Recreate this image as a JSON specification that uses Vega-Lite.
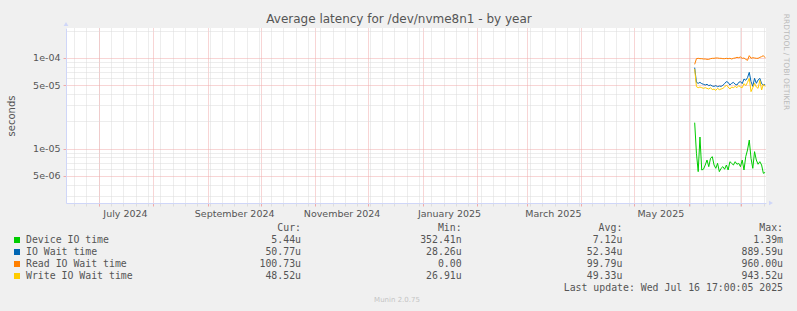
{
  "$schema": "https://vega.github.io/schema/vega-lite/v6.json",
  "width": 700,
  "height": 175,
  "autosize": {"type": "none"},
  "padding": {"left": 66, "top": 28, "right": 31, "bottom": 108},
  "background": "#F0F0F0",
  "view": {"fill": "#FFFFFF", "stroke": null},
  "config": {
    "font": "DejaVu Sans",
    "axis": {"labelFont": "DejaVu Sans", "labelColor": "#555555", "labelFontSize": 9.5, "domainColor": "#CFD6F8", "titleFont": "DejaVu Sans"}
  },
  "datasets": {
    "series": [
      {"date": "2025-06-04T12:00:00Z", "Device IO time": 1.93e-5, "IO Wait time": 7.82e-5, "Read IO Wait time": 8.51e-5, "Write IO Wait time": 7.56e-5},
      {"date": "2025-06-05T12:00:00Z", "Device IO time": 8.85e-6, "IO Wait time": 5.38e-5, "Read IO Wait time": 9.83e-5, "Write IO Wait time": 4.82e-5},
      {"date": "2025-06-06T12:00:00Z", "Device IO time": 5.55e-6, "IO Wait time": 5.25e-5, "Read IO Wait time": 9.92e-5, "Write IO Wait time": 4.70e-5},
      {"date": "2025-06-07T12:00:00Z", "Device IO time": 1.34e-5, "IO Wait time": 5.38e-5, "Read IO Wait time": 9.83e-5, "Write IO Wait time": 4.78e-5},
      {"date": "2025-06-08T12:00:00Z", "Device IO time": 5.79e-6, "IO Wait time": 5.21e-5, "Read IO Wait time": 9.83e-5, "Write IO Wait time": 4.70e-5},
      {"date": "2025-06-09T12:00:00Z", "Device IO time": 5.90e-6, "IO Wait time": 5.12e-5, "Read IO Wait time": 9.75e-5, "Write IO Wait time": 4.62e-5},
      {"date": "2025-06-10T12:00:00Z", "Device IO time": 6.57e-6, "IO Wait time": 5.03e-5, "Read IO Wait time": 9.75e-5, "Write IO Wait time": 4.70e-5},
      {"date": "2025-06-11T12:00:00Z", "Device IO time": 7.46e-6, "IO Wait time": 5.12e-5, "Read IO Wait time": 9.67e-5, "Write IO Wait time": 4.62e-5},
      {"date": "2025-06-12T12:00:00Z", "Device IO time": 6.30e-6, "IO Wait time": 4.95e-5, "Read IO Wait time": 9.67e-5, "Write IO Wait time": 4.54e-5},
      {"date": "2025-06-13T12:00:00Z", "Device IO time": 7.79e-6, "IO Wait time": 5.03e-5, "Read IO Wait time": 9.83e-5, "Write IO Wait time": 4.70e-5},
      {"date": "2025-06-14T12:00:00Z", "Device IO time": 8.13e-6, "IO Wait time": 4.90e-5, "Read IO Wait time": 9.92e-5, "Write IO Wait time": 4.47e-5},
      {"date": "2025-06-15T12:00:00Z", "Device IO time": 6.57e-6, "IO Wait time": 4.86e-5, "Read IO Wait time": 9.92e-5, "Write IO Wait time": 4.54e-5},
      {"date": "2025-06-16T12:00:00Z", "Device IO time": 6.04e-6, "IO Wait time": 4.95e-5, "Read IO Wait time": 1.00e-4, "Write IO Wait time": 4.39e-5},
      {"date": "2025-06-17T12:00:00Z", "Device IO time": 6.86e-6, "IO Wait time": 4.82e-5, "Read IO Wait time": 1.00e-4, "Write IO Wait time": 4.62e-5},
      {"date": "2025-06-18T12:00:00Z", "Device IO time": 5.55e-6, "IO Wait time": 4.90e-5, "Read IO Wait time": 9.92e-5, "Write IO Wait time": 4.47e-5},
      {"date": "2025-06-19T12:00:00Z", "Device IO time": 6.04e-6, "IO Wait time": 4.86e-5, "Read IO Wait time": 9.92e-5, "Write IO Wait time": 4.54e-5},
      {"date": "2025-06-20T12:00:00Z", "Device IO time": 6.30e-6, "IO Wait time": 4.99e-5, "Read IO Wait time": 9.83e-5, "Write IO Wait time": 4.62e-5},
      {"date": "2025-06-21T12:00:00Z", "Device IO time": 5.90e-6, "IO Wait time": 5.21e-5, "Read IO Wait time": 9.83e-5, "Write IO Wait time": 4.78e-5},
      {"date": "2025-06-22T12:00:00Z", "Device IO time": 6.57e-6, "IO Wait time": 5.48e-5, "Read IO Wait time": 9.92e-5, "Write IO Wait time": 5.03e-5},
      {"date": "2025-06-23T12:00:00Z", "Device IO time": 5.79e-6, "IO Wait time": 5.38e-5, "Read IO Wait time": 9.83e-5, "Write IO Wait time": 4.78e-5},
      {"date": "2025-06-24T12:00:00Z", "Device IO time": 7.15e-6, "IO Wait time": 5.03e-5, "Read IO Wait time": 9.92e-5, "Write IO Wait time": 4.54e-5},
      {"date": "2025-06-25T12:00:00Z", "Device IO time": 6.86e-6, "IO Wait time": 5.25e-5, "Read IO Wait time": 9.75e-5, "Write IO Wait time": 4.78e-5},
      {"date": "2025-06-26T12:00:00Z", "Device IO time": 6.57e-6, "IO Wait time": 5.38e-5, "Read IO Wait time": 9.92e-5, "Write IO Wait time": 4.70e-5},
      {"date": "2025-06-27T12:00:00Z", "Device IO time": 7.15e-6, "IO Wait time": 5.12e-5, "Read IO Wait time": 1.00e-4, "Write IO Wait time": 4.86e-5},
      {"date": "2025-06-28T12:00:00Z", "Device IO time": 6.70e-6, "IO Wait time": 5.03e-5, "Read IO Wait time": 1.017e-4, "Write IO Wait time": 4.70e-5},
      {"date": "2025-06-29T12:00:00Z", "Device IO time": 6.86e-6, "IO Wait time": 5.38e-5, "Read IO Wait time": 1.008e-4, "Write IO Wait time": 4.95e-5},
      {"date": "2025-06-30T12:00:00Z", "Device IO time": 6.30e-6, "IO Wait time": 5.48e-5, "Read IO Wait time": 1.026e-4, "Write IO Wait time": 4.78e-5},
      {"date": "2025-07-01T12:00:00Z", "Device IO time": 7.46e-6, "IO Wait time": 5.21e-5, "Read IO Wait time": 9.92e-5, "Write IO Wait time": 4.70e-5},
      {"date": "2025-07-02T12:00:00Z", "Device IO time": 5.79e-6, "IO Wait time": 5.86e-5, "Read IO Wait time": 1.00e-4, "Write IO Wait time": 5.21e-5},
      {"date": "2025-07-03T12:00:00Z", "Device IO time": 8.13e-6, "IO Wait time": 5.67e-5, "Read IO Wait time": 9.67e-5, "Write IO Wait time": 4.95e-5},
      {"date": "2025-07-04T12:00:00Z", "Device IO time": 9.63e-6, "IO Wait time": 6.06e-5, "Read IO Wait time": 9.42e-5, "Write IO Wait time": 5.38e-5},
      {"date": "2025-07-05T12:00:00Z", "Device IO time": 1.24e-5, "IO Wait time": 6.94e-5, "Read IO Wait time": 1.061e-4, "Write IO Wait time": 5.96e-5},
      {"date": "2025-07-06T12:00:00Z", "Device IO time": 7.79e-6, "IO Wait time": 5.48e-5, "Read IO Wait time": 9.92e-5, "Write IO Wait time": 4.25e-5},
      {"date": "2025-07-07T12:00:00Z", "Device IO time": 6.04e-6, "IO Wait time": 4.86e-5, "Read IO Wait time": 1.008e-4, "Write IO Wait time": 4.70e-5},
      {"date": "2025-07-08T12:00:00Z", "Device IO time": 9.23e-6, "IO Wait time": 5.96e-5, "Read IO Wait time": 1.00e-4, "Write IO Wait time": 5.25e-5},
      {"date": "2025-07-09T12:00:00Z", "Device IO time": 7.46e-6, "IO Wait time": 5.25e-5, "Read IO Wait time": 9.92e-5, "Write IO Wait time": 4.78e-5},
      {"date": "2025-07-10T12:00:00Z", "Device IO time": 6.70e-6, "IO Wait time": 5.71e-5, "Read IO Wait time": 9.92e-5, "Write IO Wait time": 4.62e-5},
      {"date": "2025-07-11T12:00:00Z", "Device IO time": 7.15e-6, "IO Wait time": 5.96e-5, "Read IO Wait time": 1.017e-4, "Write IO Wait time": 5.67e-5},
      {"date": "2025-07-12T12:00:00Z", "Device IO time": 6.57e-6, "IO Wait time": 5.21e-5, "Read IO Wait time": 1.035e-4, "Write IO Wait time": 4.43e-5},
      {"date": "2025-07-13T12:00:00Z", "Device IO time": 5.32e-6, "IO Wait time": 5.03e-5, "Read IO Wait time": 1.061e-4, "Write IO Wait time": 5.12e-5},
      {"date": "2025-07-14T12:00:00Z", "Device IO time": 5.44e-6, "IO Wait time": 5.08e-5, "Read IO Wait time": 1.007e-4, "Write IO Wait time": 4.85e-5}
    ],
    "names": [
      {"series": "Device IO time"},
      {"series": "IO Wait time"},
      {"series": "Read IO Wait time"},
      {"series": "Write IO Wait time"}
    ],
    "cells": [
      {"row": "hdr", "col": "Cur", "text": "Cur:\u00a0\u00a0"},
      {"row": "hdr", "col": "Min", "text": "Min:\u00a0\u00a0"},
      {"row": "hdr", "col": "Avg", "text": "Avg:\u00a0\u00a0"},
      {"row": "hdr", "col": "Max", "text": "Max:"},
      {"row": "Device IO time", "col": "Cur", "text": "5.44u"},
      {"row": "Device IO time", "col": "Min", "text": "352.41n"},
      {"row": "Device IO time", "col": "Avg", "text": "7.12u"},
      {"row": "Device IO time", "col": "Max", "text": "1.39m"},
      {"row": "IO Wait time", "col": "Cur", "text": "50.77u"},
      {"row": "IO Wait time", "col": "Min", "text": "28.26u"},
      {"row": "IO Wait time", "col": "Avg", "text": "52.34u"},
      {"row": "IO Wait time", "col": "Max", "text": "889.59u"},
      {"row": "Read IO Wait time", "col": "Cur", "text": "100.73u"},
      {"row": "Read IO Wait time", "col": "Min", "text": "0.00\u00a0"},
      {"row": "Read IO Wait time", "col": "Avg", "text": "99.79u"},
      {"row": "Read IO Wait time", "col": "Max", "text": "960.00u"},
      {"row": "Write IO Wait time", "col": "Cur", "text": "48.52u"},
      {"row": "Write IO Wait time", "col": "Min", "text": "26.91u"},
      {"row": "Write IO Wait time", "col": "Avg", "text": "49.33u"},
      {"row": "Write IO Wait time", "col": "Max", "text": "943.52u"},
      {"row": "upd", "col": "Max", "text": "Last update: Wed Jul 16 17:00:05 2025"}
    ],
    "footer": [{"row": "munin", "text": "Munin 2.0.75"}],
    "side": [{"text": "RRDTOOL / TOBI OETIKER"}],
    "heading": [{"text": "Average latency for /dev/nvme8n1 - by year"}]
  },
  "layer": [
    {
      "data": {"name": "series"},
      "transform": [{"fold": ["Device IO time", "IO Wait time", "Read IO Wait time", "Write IO Wait time"], "as": ["series", "value"]}],
      "layer": [
        {
          "mark": {"type": "point", "opacity": 0},
          "encoding": {
            "x": {"field": "date", "type": "temporal", "scale": {"type": "utc", "domain": [1718193600000, 1752537600000]},
              "axis": {"orient": "bottom", "title": null, "labels": false, "domain": false, "ticks": true, "tickSize": 3, "tickColor": "#DDDDDD", "grid": true, "gridColor": "#DADADA", "gridDash": [1, 1], "gridWidth": 1,
                "values": [1718582400000, 1719187200000, 1719792000000, 1720396800000, 1721001600000, 1721606400000, 1722211200000, 1722816000000, 1723420800000, 1724025600000, 1724630400000, 1725235200000, 1725840000000, 1726444800000, 1727049600000, 1727654400000, 1728259200000, 1728864000000, 1729468800000, 1730073600000, 1730678400000, 1731283200000, 1731888000000, 1732492800000, 1733097600000, 1733702400000, 1734307200000, 1734912000000, 1735516800000, 1736121600000, 1736726400000, 1737331200000, 1737936000000, 1738540800000, 1739145600000, 1739750400000, 1740355200000, 1740960000000, 1741564800000, 1742169600000, 1742774400000, 1743379200000, 1743984000000, 1744588800000, 1745193600000, 1745798400000, 1746403200000, 1747008000000, 1747612800000, 1748217600000, 1748822400000, 1749427200000, 1750032000000, 1750636800000, 1751241600000, 1751846400000, 1752451200000]}},
            "y": {"field": "value", "type": "quantitative", "scale": {"type": "log", "domain": [2.5e-6, 2.145e-4], "nice": false},
              "axis": {"orient": "left", "title": null, "labels": false, "domain": false, "ticks": false, "grid": true, "gridColor": "#DADADA", "gridDash": [1, 1], "gridWidth": 1,
                "values": [3e-6, 4e-6, 6e-6, 7e-6, 8e-6, 9e-6, 2e-5, 3e-5, 4e-5, 6e-5, 7e-5, 8e-5, 9e-5, 2e-4]}}
          }
        },
        {
          "mark": {"type": "point", "opacity": 0},
          "encoding": {
            "x": {"field": "date", "type": "temporal",
              "axis": {"orient": "bottom", "title": null, "labels": false, "domain": false, "ticks": true, "tickSize": 3, "tickColor": "#F0AAAA", "grid": true, "gridColor": "#F0AAAA", "gridDash": [1, 1], "gridWidth": 1,
                "tickCount": {"interval": "month", "step": 1}}},
            "y": {"field": "value", "type": "quantitative",
              "axis": {"orient": "left", "values": [5e-6, 1e-5, 5e-5, 1e-4], "labelExpr": "replace(format(datum.value, '.0e'), 'e-', 'e-0')",
                "grid": true, "gridColor": "#F0AAAA", "gridDash": [1, 1], "gridWidth": 1, "ticks": true, "tickSize": 3, "tickColor": "#F0AAAA", "labelPadding": 3, "domain": true, "domainColor": "#CFD6F8",
                "title": "seconds", "titleFontSize": 10, "titleFontWeight": "normal", "titleColor": "#555555", "titlePadding": 16}}
          }
        },
        {
          "mark": {"type": "line", "strokeWidth": 1},
          "encoding": {
            "x": {"field": "date", "type": "temporal",
              "axis": {"orient": "bottom", "title": null, "grid": false, "ticks": false, "domain": true, "domainColor": "#CFD6F8", "labelPadding": 5, "labelFlush": false, "labelOverlap": false, "labelBound": false,
                "values": [1721088000000, 1726444800000, 1731715200000, 1736985600000, 1742083200000, 1747353600000], "labelExpr": "utcFormat(datum.value, '%B %Y')"}},
            "y": {"field": "value", "type": "quantitative", "axis": null},
            "color": {"field": "series", "type": "nominal", "scale": {"domain": ["Device IO time", "IO Wait time", "Read IO Wait time", "Write IO Wait time"], "range": ["#00CC00", "#0066B3", "#FF8000", "#FFCC00"]}, "legend": null}
          }
        },
        {
          "data": {"values": [{"corner": "top"}]},
          "mark": {"type": "point", "shape": "triangle-up", "filled": true, "opacity": 1, "size": 22, "color": "#CFD6F8", "yOffset": -4},
          "encoding": {
            "x": {"datum": 1718193600000, "type": "temporal", "axis": null},
            "y": {"datum": 2.145e-4, "type": "quantitative", "axis": null}
          }
        },
        {
          "data": {"values": [{"corner": "right"}]},
          "mark": {"type": "point", "shape": "triangle-right", "filled": true, "opacity": 1, "size": 22, "color": "#CFD6F8", "xOffset": 5},
          "encoding": {
            "x": {"datum": 1752537600000, "type": "temporal", "axis": null},
            "y": {"datum": 2.5e-6, "type": "quantitative", "axis": null}
          }
        }
      ],
      "resolve": {"axis": {"x": "independent", "y": "independent"}}
    },
    {
      "data": {"name": "heading"},
      "mark": {"type": "text", "fontSize": 12, "color": "#555555", "align": "center", "baseline": "alphabetic"},
      "encoding": {
        "x": {"datum": "title", "type": "nominal", "scale": {"type": "point", "domain": ["title"], "range": [333, 333]}, "axis": null},
        "y": {"datum": "title", "type": "nominal", "scale": {"type": "point", "domain": ["title"], "range": [-5, -5]}, "axis": null},
        "text": {"field": "text"}
      }
    },
    {
      "data": {"name": "names"},
      "mark": {"type": "point", "shape": "square", "filled": true, "opacity": 1, "size": 36},
      "encoding": {
        "x": {"datum": "swatch", "type": "nominal", "scale": {"type": "point", "domain": ["swatch"], "range": [-49, -49]}, "axis": null},
        "y": {"field": "series", "type": "nominal", "scale": {"type": "point", "domain": ["hdr", "Device IO time", "IO Wait time", "Read IO Wait time", "Write IO Wait time", "upd", "munin"], "range": [200, 272], "padding": 0}, "axis": null},
        "color": {"field": "series", "type": "nominal", "scale": {"domain": ["Device IO time", "IO Wait time", "Read IO Wait time", "Write IO Wait time"], "range": ["#00CC00", "#0066B3", "#FF8000", "#FFCC00"]}, "legend": null}
      }
    },
    {
      "data": {"name": "names"},
      "mark": {"type": "text", "font": "DejaVu Sans Mono", "fontSize": 9.85, "color": "#555555", "align": "left", "baseline": "middle"},
      "encoding": {
        "x": {"datum": "label", "type": "nominal", "scale": {"type": "point", "domain": ["label"], "range": [-40, -40]}, "axis": null},
        "y": {"field": "series", "type": "nominal", "scale": {"type": "point", "domain": ["hdr", "Device IO time", "IO Wait time", "Read IO Wait time", "Write IO Wait time", "upd", "munin"], "range": [200, 272], "padding": 0}, "axis": null},
        "text": {"field": "series"}
      }
    },
    {
      "data": {"name": "cells"},
      "mark": {"type": "text", "font": "DejaVu Sans Mono", "fontSize": 9.85, "color": "#555555", "align": "right", "baseline": "middle"},
      "encoding": {
        "x": {"field": "col", "type": "nominal", "scale": {"type": "point", "domain": ["Cur", "Min", "Avg", "Max"], "range": [235, 717], "padding": 0}, "axis": null},
        "y": {"field": "row", "type": "nominal", "scale": {"type": "point", "domain": ["hdr", "Device IO time", "IO Wait time", "Read IO Wait time", "Write IO Wait time", "upd", "munin"], "range": [200, 272], "padding": 0}, "axis": null},
        "text": {"field": "text"}
      }
    },
    {
      "data": {"name": "footer"},
      "mark": {"type": "text", "fontSize": 7, "color": "#C4C4C4", "align": "center", "baseline": "middle"},
      "encoding": {
        "x": {"datum": "footer", "type": "nominal", "scale": {"type": "point", "domain": ["footer"], "range": [331, 331]}, "axis": null},
        "y": {"field": "row", "type": "nominal", "scale": {"type": "point", "domain": ["hdr", "Device IO time", "IO Wait time", "Read IO Wait time", "Write IO Wait time", "upd", "munin"], "range": [200, 272], "padding": 0}, "axis": null},
        "text": {"field": "text"}
      }
    },
    {
      "data": {"name": "side"},
      "mark": {"type": "text", "fontSize": 7.5, "color": "#BBBBBB", "align": "center", "baseline": "middle", "angle": 90},
      "encoding": {
        "x": {"datum": "side", "type": "nominal", "scale": {"type": "point", "domain": ["side"], "range": [720, 720]}, "axis": null},
        "y": {"datum": "side", "type": "nominal", "scale": {"type": "point", "domain": ["side"], "range": [34, 34]}, "axis": null},
        "text": {"field": "text"}
      }
    }
  ],
  "resolve": {"scale": {"x": "independent", "y": "independent", "color": "independent"}}
}
